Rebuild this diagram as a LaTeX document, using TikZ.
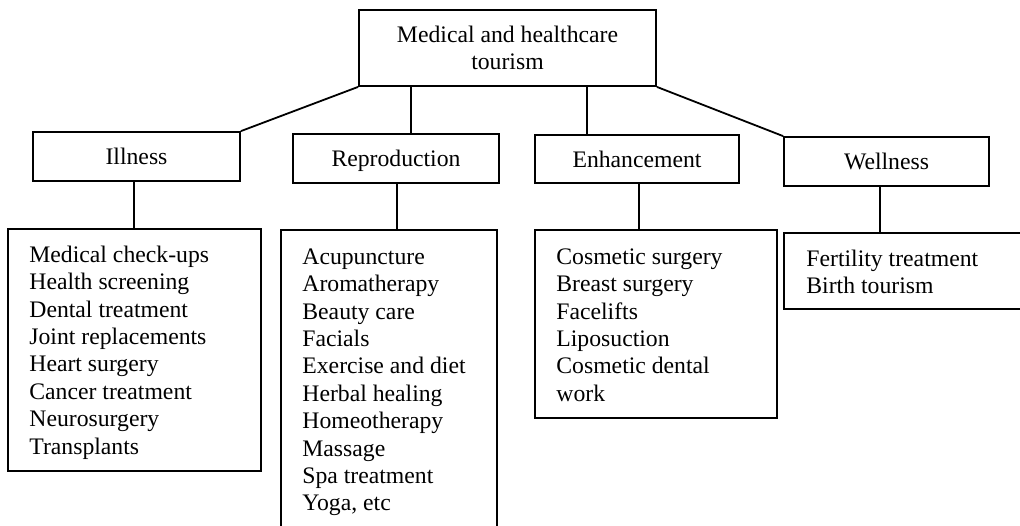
\documentclass[tikz,border=0pt]{standalone}
\usepackage{fontspec}
\setmainfont{Liberation Serif}
\usetikzlibrary{calc}
\tikzset{
  box/.style={draw, line width=0.9pt, inner sep=0pt},
  lbl/.style={font=\fontsize{11.85pt}{13.3pt}\selectfont, align=center},
  cat/.style={font=\fontsize{11.85pt}{13.3pt}\selectfont, text height=9pt, text depth=1pt},
  listtxt/.style={font=\fontsize{11.85pt}{13.7pt}\selectfont, align=left, inner sep=0pt, anchor=north west},
  conn/.style={line width=0.9pt}
}
\begin{document}
\begin{tikzpicture}[x=0.5pt,y=-0.5pt]
\useasboundingbox (0,0) rectangle (1020,525);
\clip (0,0) rectangle (1020,525);
% top
\node[box, lbl, minimum width=148.5pt, minimum height=38pt] (top) at (507.5,48) {Medical and healthcare\\tourism};
% level 2
\node[box, cat, minimum width=103.5pt, minimum height=24.5pt] (ill) at (136.5,156.5) {Illness};
\node[box, cat, minimum width=103pt, minimum height=24.5pt] (rep) at (396,158.5) {Reproduction};
\node[box, cat, minimum width=102pt, minimum height=24pt] (enh) at (637,159) {Enhancement};
\node[box, cat, minimum width=102.5pt, minimum height=24.5pt] (wel) at (886.5,161.5) {Wellness};
% lists
\node[box, minimum width=126.5pt, minimum height=121pt] (illL) at (134.5,350) {};
\node[box, minimum width=108pt, minimum height=165pt] (repL) at (389,395) {};
\node[box, minimum width=121pt, minimum height=94pt] (enhL) at (656,324) {};
\node[box, minimum width=138pt, minimum height=38pt] (welL) at (922,271) {};
\node[listtxt] (illT) at (29,242.8) {\strut Medical check-ups\\Health screening\\Dental treatment\\Joint replacements\\Heart surgery\\Cancer treatment\\Neurosurgery\\Transplants};
\node[listtxt] (repT) at (302,244.8) {\strut Acupuncture\\Aromatherapy\\Beauty care\\Facials\\Exercise and diet\\Herbal healing\\Homeotherapy\\Massage\\Spa treatment\\Yoga, etc};
\node[listtxt] (enhT) at (556,244.8) {\strut Cosmetic surgery\\Breast surgery\\Facelifts\\Liposuction\\Cosmetic dental\\work};
\node[listtxt] (welT) at (806,246.8) {\strut Fertility treatment\\Birth tourism};
% connector x positions
\coordinate (xr) at (411,0);
\coordinate (xe) at (587,0);
\coordinate (xi) at (134,0);
\coordinate (xrl) at (397,0);
\coordinate (xel) at (639,0);
\coordinate (xwl) at (880,0);
% connectors
\draw[conn] (top.south west) -- (ill.north east);
\draw[conn] (top.south -| xr) -- (rep.north -| xr);
\draw[conn] (top.south -| xe) -- (enh.north -| xe);
\draw[conn] (top.south east) -- (wel.north west);
\draw[conn] (ill.south -| xi) -- (illL.north -| xi);
\draw[conn] (rep.south -| xrl) -- (repL.north -| xrl);
\draw[conn] (enh.south -| xel) -- (enhL.north -| xel);
\draw[conn] (wel.south -| xwl) -- (welL.north -| xwl);
\end{tikzpicture}
\end{document}
